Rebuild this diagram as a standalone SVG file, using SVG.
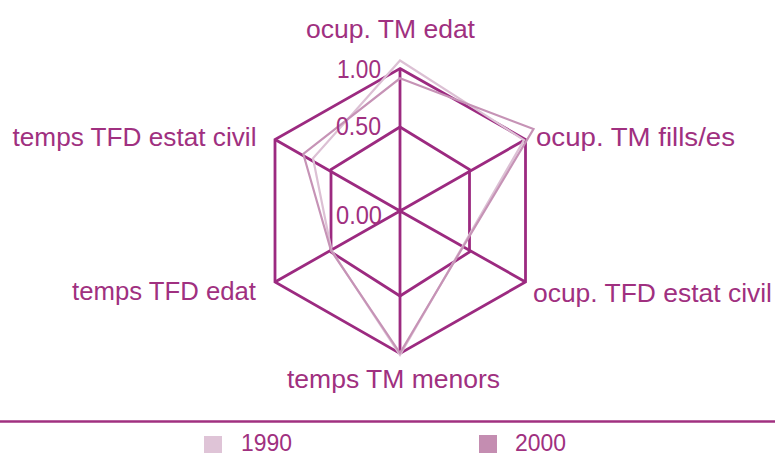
<svg xmlns="http://www.w3.org/2000/svg" width="775" height="456" viewBox="0 0 775 456">
<style>
.grid{fill:none;stroke:#9c2a80;stroke-width:2.8;stroke-linejoin:miter}
.s1990{fill:none;stroke:#dcc0d4;stroke-width:2.2;stroke-linejoin:miter}
.s2000{fill:none;stroke:#c693b6;stroke-width:2.2;stroke-linejoin:miter}
text{font-family:"Liberation Sans",Arial,sans-serif;font-size:26px;fill:#a03080}
.tick{font-size:25px}
.leg{font-size:24px}
</style>
<rect width="775" height="456" fill="#ffffff"/>
<g id="grid">
<polygon class="grid" points="400,68.5 525.5,139.5 525.5,282 400,353.5 275,282 275,139.5"/>
<polygon class="grid" points="400,127 469.5,169.5 469.5,252 400,296 331,252 331,169.5"/>
<path class="grid" d="M400,211 L400,68.5 M400,211 L525.5,139.5 M400,211 L525.5,282 M400,211 L400,353.5 M400,211 L275,282 M400,211 L275,139.5"/>
</g>
<g id="series-1990">
<polygon class="s1990" points="400,60.5 524,140 462.4,246.8 400,355 331.5,250.5 313,158.3"/>
</g>
<g id="series-2000">
<polygon class="s2000" points="400,78.3 533.5,129 463,247 400,353 331,250.5 303.3,154"/>
</g>
<g id="ticks">
<text class="tick" x="337" y="78" textLength="44" lengthAdjust="spacingAndGlyphs">1.00</text>
<text class="tick" x="336" y="135" textLength="45" lengthAdjust="spacingAndGlyphs">0.50</text>
<text class="tick" x="336" y="224" textLength="46" lengthAdjust="spacingAndGlyphs">0.00</text>
</g>
<g id="axis-labels">
<text x="306" y="38" textLength="169" lengthAdjust="spacingAndGlyphs">ocup. TM edat</text>
<text x="536" y="146" textLength="199" lengthAdjust="spacingAndGlyphs">ocup. TM fills/es</text>
<text x="533" y="302" textLength="239" lengthAdjust="spacingAndGlyphs">ocup. TFD estat civil</text>
<text x="287" y="388" textLength="213" lengthAdjust="spacingAndGlyphs">temps TM menors</text>
<text x="72" y="300" textLength="184" lengthAdjust="spacingAndGlyphs">temps TFD edat</text>
<text x="12.5" y="146" textLength="244" lengthAdjust="spacingAndGlyphs">temps TFD estat civil</text>
</g>
<g id="legend">
<line x1="0" y1="421.5" x2="775" y2="421.5" stroke="#a03080" stroke-width="2.6"/>
<g id="legend-1990">
<rect x="204" y="436" width="18" height="17" fill="#dfc4d7"/>
<text class="leg" x="241" y="450.5" textLength="51" lengthAdjust="spacingAndGlyphs">1990</text>
</g>
<g id="legend-2000">
<rect x="479" y="435" width="18" height="18" fill="#c48db1"/>
<text class="leg" x="515" y="450.5" textLength="51" lengthAdjust="spacingAndGlyphs">2000</text>
</g>
</g>
</svg>
